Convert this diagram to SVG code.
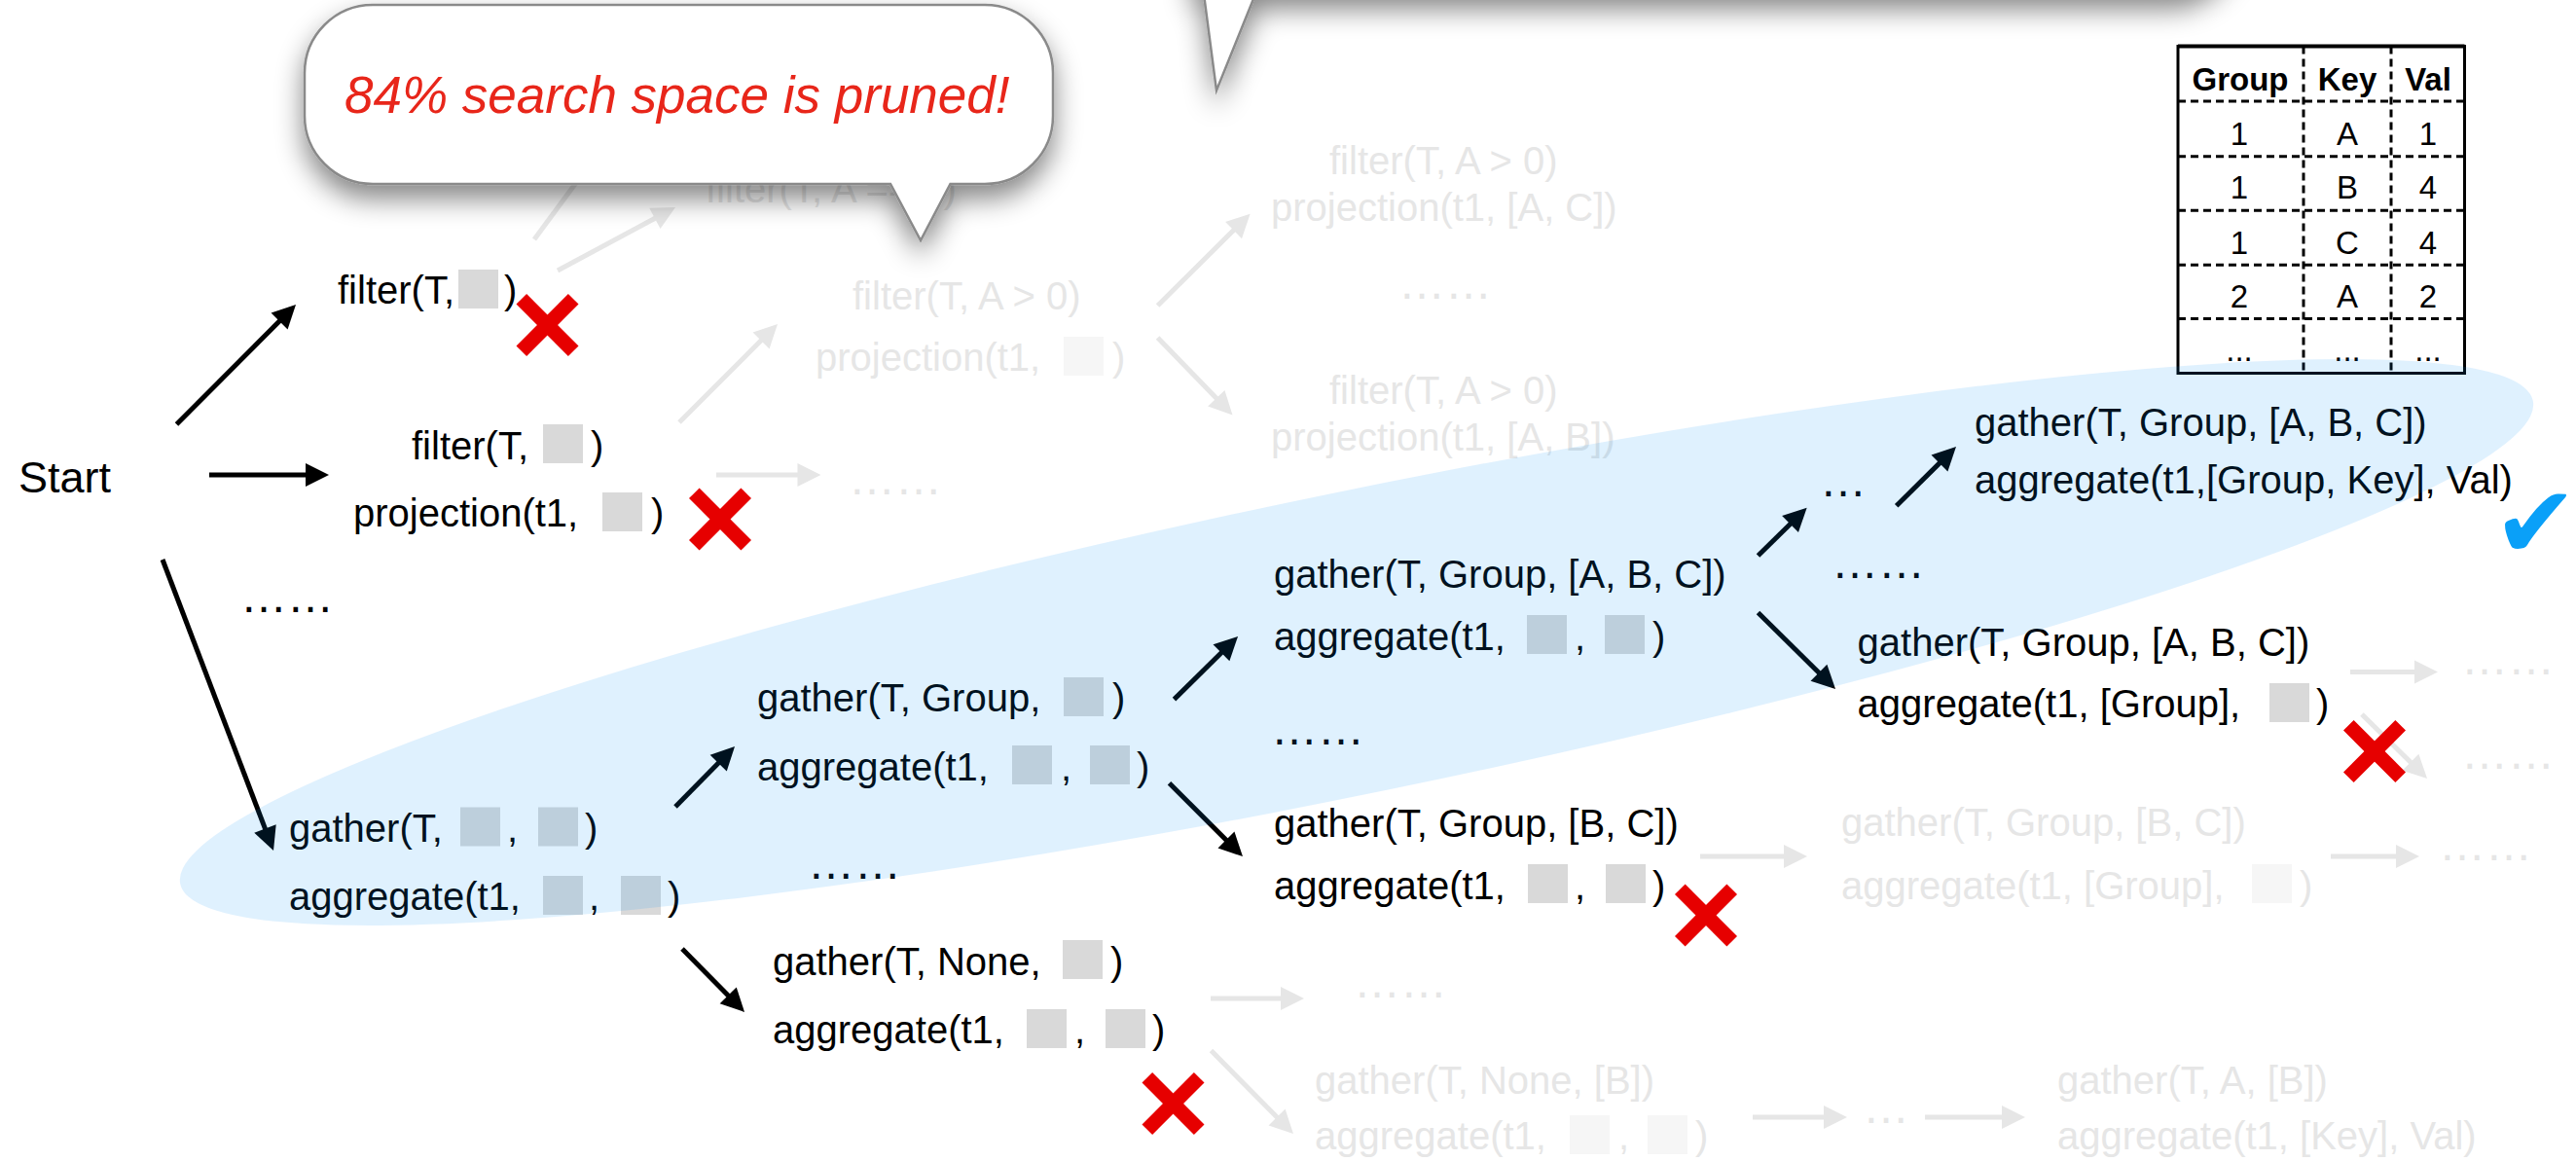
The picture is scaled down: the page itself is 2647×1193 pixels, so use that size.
<svg xmlns="http://www.w3.org/2000/svg" width="2647" height="1193" viewBox="0 0 2647 1193">
  <style>
    text { font-family: "Liberation Sans", Arial, Helvetica, sans-serif; font-size: 40px; }
    .t { fill: #000; }
    .gt { fill: #e6e6e6; }
    .dots { font-size: 48px; }
    .start { font-size: 45px; }
    .callout-text { font-size: 53px; font-style: italic; fill: #e8261a; }
    .tick { font-family: "DejaVu Sans", sans-serif; font-size: 104px; fill: #0aa0f8; }
    .box { fill: #d9d9d9; }
    .gbox { fill: #f6f6f6; }
    .arr { fill: none; stroke: #000; stroke-width: 5; marker-end: url(#ah); }
    .garr { fill: none; stroke: #e6e6e6; stroke-width: 5; marker-end: url(#ahg); }
    .xm { fill: #e60000; }
    .th { font-size: 33px; font-weight: bold; text-anchor: middle; fill: #000; }
    .td { font-size: 33px; text-anchor: middle; fill: #000; }
    .grid { stroke: #000; stroke-width: 3; stroke-dasharray: 8 5; fill: none; }
    .bubble { fill: #fff; stroke: #8a8a8a; stroke-width: 2.5; filter: url(#shadow); }
  </style>
  <defs>
    <marker id="ah" markerUnits="userSpaceOnUse" markerWidth="24" markerHeight="24" refX="4" refY="12" orient="auto" overflow="visible">
      <path d="M0,0 L24,12 L0,24 Z" fill="#000"/>
    </marker>
    <marker id="ahg" markerUnits="userSpaceOnUse" markerWidth="24" markerHeight="24" refX="4" refY="12" orient="auto" overflow="visible">
      <path d="M0,0 L24,12 L0,24 Z" fill="#e6e6e6"/>
    </marker>
    <filter id="shadow" x="-20%" y="-60%" width="140%" height="220%">
      <feDropShadow dx="0" dy="14" stdDeviation="14" flood-color="#000" flood-opacity="0.48"/>
    </filter>
    <!-- red cross used for pruned branches -->
    <g id="cross">
      <rect x="-37.75" y="-7.5" width="75.5" height="15" transform="rotate(45)"/>
      <rect x="-37.75" y="-7.5" width="75.5" height="15" transform="rotate(-45)"/>
    </g>
  </defs>

  <rect width="2647" height="1193" fill="#fff"/>

  <!-- faded (unexplored) branches -->
  <g id="ghost-connectors">
    <polyline class="garr" points="549,246 608,166"/>
    <polyline class="garr" points="573,278 676.4,222.5"/>
    <polyline class="garr" points="698,434 784.9,347.1"/>
    <polyline class="garr" points="736,488 823.5,488"/>
    <polyline class="garr" points="1189.6,314 1270.4,233.8"/>
    <polyline class="garr" points="1189.6,347 1252.6,412.1"/>
    <polyline class="garr" points="1244,1026 1320,1026"/>
    <polyline class="garr" points="1244.5,1079.6 1314.9,1150.8"/>
    <polyline class="garr" points="1747,880 1837,880"/>
    <polyline class="garr" points="2395,880 2466,880"/>
    <polyline class="garr" points="2415,690.4 2485,690.4"/>
    <polyline class="garr" points="2427,734 2479.8,786"/>
    <polyline class="garr" points="1801,1148 1878,1148"/>
    <polyline class="garr" points="1978,1148 2061,1148"/>
  </g>

  <g id="ghost-filter-eq">
    <text class="gt" x="725" y="207.5">filter(T, A == 0)</text>
  </g>
  <g id="ghost-filter-proj">
    <text class="gt" x="876" y="318">filter(T, A &gt; 0)</text>
    <text class="gt" x="838" y="381">projection(t1,</text>
    <rect class="gbox" x="1093" y="346" width="41" height="40"/>
    <text class="gt" x="1143" y="381">)</text>
  </g>
  <g id="ghost-dots-a"><text class="gt dots" x="872" y="508">……</text></g>
  <g id="ghost-proj-ac">
    <text class="gt" x="1366" y="179">filter(T, A &gt; 0)</text>
    <text class="gt" x="1306" y="226.6">projection(t1, [A, C])</text>
  </g>
  <g id="ghost-dots-b"><text class="gt dots" x="1437" y="307">……</text></g>
  <g id="ghost-proj-ab">
    <text class="gt" x="1366" y="415">filter(T, A &gt; 0)</text>
    <text class="gt" x="1306" y="462.7">projection(t1, [A, B])</text>
  </g>
  <g id="ghost-gather-bc">
    <text class="gt" x="1892" y="859">gather(T, Group, [B, C])</text>
    <text class="gt" x="1892" y="923.5">aggregate(t1, [Group],</text>
    <rect class="gbox" x="2314" y="888" width="41" height="40"/>
    <text class="gt" x="2363" y="923.5">)</text>
  </g>
  <g id="ghost-dots-c"><text class="gt dots" x="2529" y="693">……</text></g>
  <g id="ghost-dots-d"><text class="gt dots" x="2529" y="790">……</text></g>
  <g id="ghost-dots-e"><text class="gt dots" x="2506" y="884">……</text></g>
  <g id="ghost-dots-f"><text class="gt dots" x="1391" y="1025">……</text></g>
  <g id="ghost-gather-none-b">
    <text class="gt" x="1351" y="1124">gather(T, None, [B])</text>
    <text class="gt" x="1351" y="1181">aggregate(t1,</text>
    <rect class="gbox" x="1613" y="1146" width="41" height="40"/>
    <text class="gt" x="1663" y="1181">,</text>
    <rect class="gbox" x="1693" y="1146" width="41" height="40"/>
    <text class="gt" x="1742" y="1181">)</text>
  </g>
  <g id="ghost-ellipsis"><text class="gt dots" x="1914" y="1154">…</text></g>
  <g id="ghost-gather-a">
    <text class="gt" x="2114" y="1124">gather(T, A, [B])</text>
    <text class="gt" x="2114" y="1181">aggregate(t1, [Key], Val)</text>
  </g>

  <!-- explored branches -->
  <g id="connectors">
    <polyline class="arr" points="181.5,436 289.9,327.2"/>
    <polyline class="arr" points="215,488 318,488"/>
    <polyline class="arr" points="167,575 273.9,855.3"/>
    <polyline class="arr" points="694,829 741,781.3"/>
    <polyline class="arr" points="701,975 751,1025.7"/>
    <polyline class="arr" points="1206.5,718.6 1257.8,668"/>
    <polyline class="arr" points="1201.5,804.7 1262.8,865.9"/>
    <polyline class="arr" points="1806.5,571 1842.4,535.7"/>
    <polyline class="arr" points="1948.7,519.8 1995.8,473.1"/>
    <polyline class="arr" points="1806.5,629.5 1871.8,694"/>
  </g>

  <g id="n-start"><text class="t start" x="19" y="506">Start</text></g>

  <g id="n-filter">
    <text class="t" x="347" y="312">filter(T,</text>
    <rect class="box" x="471" y="277" width="41" height="40"/>
    <text class="t" x="518" y="312">)</text>
  </g>

  <g id="n-filter-proj">
    <text class="t" x="423" y="472">filter(T,</text>
    <rect class="box" x="558" y="436" width="41" height="40"/>
    <text class="t" x="607" y="472">)</text>
    <text class="t" x="363" y="541">projection(t1,</text>
    <rect class="box" x="619" y="506" width="41" height="40"/>
    <text class="t" x="669" y="541">)</text>
  </g>

  <g id="n-dots-1"><text class="t dots" x="247" y="629">……</text></g>

  <g id="n-gather">
    <text class="t" x="297" y="864.5">gather(T,</text>
    <rect class="box" x="473" y="829.5" width="41" height="40"/>
    <text class="t" x="521" y="864.5">,</text>
    <rect class="box" x="553" y="829.5" width="41" height="40"/>
    <text class="t" x="601" y="864.5">)</text>
    <text class="t" x="297" y="935">aggregate(t1,</text>
    <rect class="box" x="558" y="900" width="41" height="40"/>
    <text class="t" x="605" y="935">,</text>
    <rect class="box" x="638" y="900" width="41" height="40"/>
    <text class="t" x="686" y="935">)</text>
  </g>

  <g id="n-gather-group">
    <text class="t" x="778" y="731">gather(T, Group,</text>
    <rect class="box" x="1093" y="696" width="41" height="40"/>
    <text class="t" x="1143" y="731">)</text>
    <text class="t" x="778" y="801.6">aggregate(t1,</text>
    <rect class="box" x="1040" y="766" width="41" height="40"/>
    <text class="t" x="1090" y="801.6">,</text>
    <rect class="box" x="1120" y="766" width="41" height="40"/>
    <text class="t" x="1168" y="801.6">)</text>
  </g>

  <g id="n-dots-2"><text class="t dots" x="830" y="903">……</text></g>

  <g id="n-gather-none">
    <text class="t" x="794" y="1001.6">gather(T, None,</text>
    <rect class="box" x="1092" y="966" width="41" height="40"/>
    <text class="t" x="1141" y="1001.6">)</text>
    <text class="t" x="794" y="1072">aggregate(t1,</text>
    <rect class="box" x="1055" y="1037" width="41" height="40"/>
    <text class="t" x="1104" y="1072">,</text>
    <rect class="box" x="1136" y="1037" width="41" height="40"/>
    <text class="t" x="1184" y="1072">)</text>
  </g>

  <g id="n-gather-abc">
    <text class="t" x="1309" y="604">gather(T, Group, [A, B, C])</text>
    <text class="t" x="1309" y="668">aggregate(t1,</text>
    <rect class="box" x="1569" y="632" width="41" height="40"/>
    <text class="t" x="1618" y="668">,</text>
    <rect class="box" x="1649" y="632" width="41" height="40"/>
    <text class="t" x="1698" y="668">)</text>
  </g>

  <g id="n-dots-3"><text class="t dots" x="1306" y="765">……</text></g>

  <g id="n-gather-bc">
    <text class="t" x="1309" y="860">gather(T, Group, [B, C])</text>
    <text class="t" x="1309" y="924">aggregate(t1,</text>
    <rect class="box" x="1570" y="888" width="41" height="40"/>
    <text class="t" x="1618" y="924">,</text>
    <rect class="box" x="1650" y="888" width="41" height="40"/>
    <text class="t" x="1698" y="924">)</text>
  </g>

  <g id="n-ellipsis"><text class="t dots" x="1870" y="510">…</text></g>
  <g id="n-dots-4"><text class="t dots" x="1882" y="594">……</text></g>

  <g id="n-gather-abc-group">
    <text class="t" x="1908.6" y="674">gather(T, Group, [A, B, C])</text>
    <text class="t" x="1908.6" y="737">aggregate(t1, [Group],</text>
    <rect class="box" x="2332" y="702" width="41" height="40"/>
    <text class="t" x="2380" y="737">)</text>
  </g>

  <g id="n-result">
    <text class="t" x="2029" y="447.5">gather(T, Group, [A, B, C])</text>
    <text class="t" x="2029" y="506.5">aggregate(t1,[Group, Key], Val)</text>
  </g>

  <!-- output table -->
  <g id="table">
    <line class="grid" x1="2238" y1="104" x2="2532.5" y2="104"/>
    <line class="grid" x1="2238" y1="160.7" x2="2532.5" y2="160.7"/>
    <line class="grid" x1="2238" y1="216.3" x2="2532.5" y2="216.3"/>
    <line class="grid" x1="2238" y1="272.3" x2="2532.5" y2="272.3"/>
    <line class="grid" x1="2238" y1="327.5" x2="2532.5" y2="327.5"/>
    <line class="grid" x1="2367" y1="47.5" x2="2367" y2="383.5"/>
    <line class="grid" x1="2457" y1="47.5" x2="2457" y2="383.5"/>
    <rect x="2238" y="47.5" width="294.5" height="336" fill="none" stroke="#000" stroke-width="3"/>
    <line x1="2238" y1="47.5" x2="2532.5" y2="47.5" stroke="#000" stroke-width="4"/>
    <text class="th" x="2302" y="93">Group</text>
    <text class="th" x="2412" y="93">Key</text>
    <text class="th" x="2495" y="93">Val</text>
    <text class="td" x="2301" y="148.5">1</text>
    <text class="td" x="2412" y="148.5">A</text>
    <text class="td" x="2495" y="148.5">1</text>
    <text class="td" x="2301" y="204">1</text>
    <text class="td" x="2412" y="204">B</text>
    <text class="td" x="2495" y="204">4</text>
    <text class="td" x="2301" y="260.5">1</text>
    <text class="td" x="2412" y="260.5">C</text>
    <text class="td" x="2495" y="260.5">4</text>
    <text class="td" x="2301" y="316">2</text>
    <text class="td" x="2412" y="316">A</text>
    <text class="td" x="2495" y="316">2</text>
    <text class="td" x="2301" y="371">...</text>
    <text class="td" x="2412" y="371">...</text>
    <text class="td" x="2495" y="371">...</text>
  </g>

  <!-- pruned marks -->
  <g id="pruned" class="xm">
    <use href="#cross" transform="translate(562.5,334)"/>
    <use href="#cross" transform="translate(740,533.5)"/>
    <use href="#cross" transform="translate(1205.5,1134)"/>
    <use href="#cross" transform="translate(1753,940.5)"/>
    <use href="#cross" transform="translate(2440,772)"/>
  </g>

  <g id="check"><text class="tick" x="2562" y="573">✔</text></g>

  <!-- highlighted search path -->
  <ellipse id="path-highlight" cx="1394" cy="660" rx="1234" ry="155" transform="rotate(-11.6 1394 660)" fill="#0091f5" fill-opacity="0.125"/>

  <!-- callouts -->
  <g id="callout-pruned">
    <path class="bubble" d="M383,5 H1012 A70,70 0 0 1 1082,75 V119 A70,70 0 0 1 1012,189 H976.5 L946,247 L915,189 H383 A70,70 0 0 1 313,119 V75 A70,70 0 0 1 383,5 Z"/>
    <text class="callout-text" x="354" y="116">84% search space is pruned!</text>
  </g>
  <g id="callout-top">
    <path class="bubble" d="M1225,-400 H2300 V-76 A70,70 0 0 1 2230,-6 H1290 L1250,93 L1237,-6 H1236 A11,11 0 0 1 1225,-17 Z"/>
  </g>
</svg>
